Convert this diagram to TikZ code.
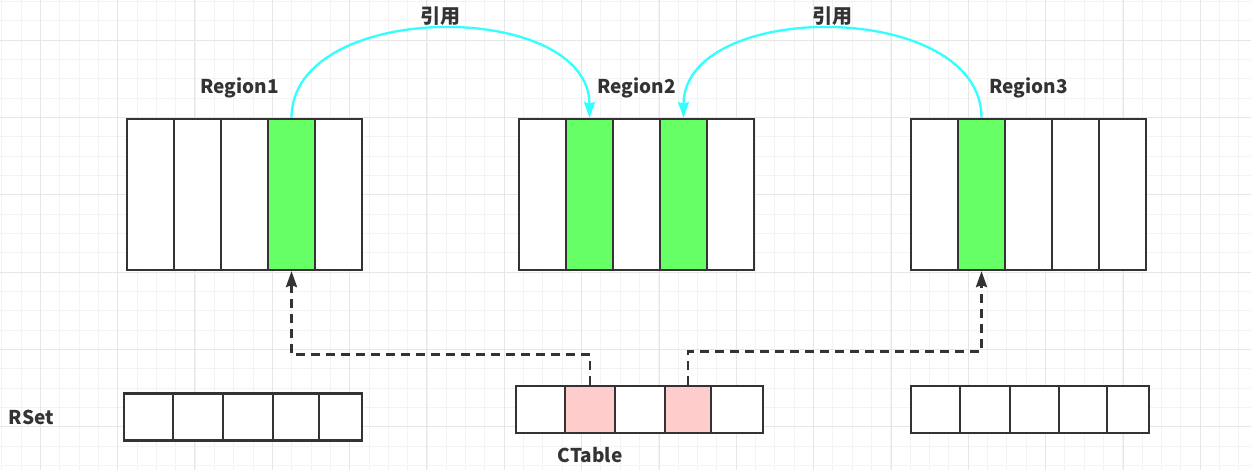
\documentclass[tikz,border=0pt]{standalone}
\usepackage{fontspec}
\newfontfamily\cjk{Noto Sans CJK SC}
\usetikzlibrary{arrows.meta, positioning}

\definecolor{edge}{HTML}{333333}
\definecolor{hit}{HTML}{66FF66}
\definecolor{card}{HTML}{FFCCCC}
\definecolor{refline}{HTML}{33FFFF}
\definecolor{gridminor}{HTML}{F3F3F3}
\definecolor{gridmajor}{HTML}{E6E6E6}

\tikzset{
  cell/.style={draw=edge, line width=2.2pt, inner sep=0pt, minimum width=47pt, minimum height=151pt},
  lbl/.style={font=\cjk\bfseries\fontsize{19}{19}\selectfont, text=edge, inner sep=0pt},
  note/.style={lbl, font=\cjk\bfseries\fontsize{20}{20}\selectfont},
  ref/.style={draw=refline, line width=2.3pt, -{Stealth[length=16pt,width=11pt,inset=2pt]}},
  ptr/.style={draw=edge, line width=2.8pt, dash pattern=on 9pt off 6pt, -{Stealth[length=16pt,width=11pt,inset=2pt]}},
}

\begin{document}
\begin{tikzpicture}[x=1pt, y=-1pt]
    \useasboundingbox[fill=white] (0,0) rectangle (1251,470);
    \foreach \k in {0,...,64} \draw[gridminor, line width=1pt] ({1.67+19.333*\k},0) -- ++(0,470);
    \foreach \k in {0,...,24} \draw[gridminor, line width=1pt] (0,{1.4+19.333*\k}) -- ++(1251,0);
    \foreach \k in {0,...,15} \draw[gridmajor, line width=1pt] ({40.33+77.333*\k},0) -- ++(0,470);
    \foreach \k in {0,...,5} \draw[gridmajor, line width=1pt] (0,{40.07+77.333*\k}) -- ++(1251,0);

    \foreach \n/\x/\fl in {r1/127/{white,white,white,hit,white}, r2/519/{white,hit,white,hit,white}, r3/911/{white,hit,white,white,white}}
        \foreach \f [count=\i] in \fl
            \node[cell, fill=\f] (\n c\i) at ({\x+47*\i-23.5}, 194.5) {};

    \foreach \n/\y/\cl in {rsa/417/{124/173/white,173/223/white,223/273/white,273/319/white,319/362/white}, ct/409.5/{516/565/white,565/615/card,615/665/white,665/711/card,711/763/white}, rsb/409.5/{911/960/white,960/1010/white,1010/1059/white,1059/1107/white,1107/1149/white}}
        \foreach \a/\b/\f [count=\i] in \cl
            \node[cell, fill=\f, minimum width={(\b-\a)*1pt}, minimum height=47pt] (\n\i) at ({(\a+\b)/2}, \y) {};

    \node[lbl, anchor=base] (region1) at ([xshift=-5pt, yshift=24pt]r1c3.north) {Region1};
    \node[lbl, anchor=base] (region2) at ([yshift=24pt]r2c3.north) {Region2};
    \node[lbl, anchor=base] (region3) at ([yshift=24pt]r3c3.north) {Region3};
    \node[lbl, left=69pt of rsa1] (rset) {RSet};
    \node[lbl, anchor=base] (ctable) at ([yshift=-28pt]ct2.south) {CTable};

    \draw[ref] (r1c4.north) .. controls +(0,-119) and +(0,-119) .. (r2c2.north) node[note, midway, above=2pt] (use1) {引用};
    \draw[ref] (r3c2.north) .. controls +(0,-119) and +(0,-119) .. (r2c4.north) node[note, midway, above=2pt] (use2) {引用};

    \draw[ptr] (ct2.north) -- ++(0,-30) -| (r1c4.south);
    \draw[ptr] (ct4.north) -- ++(0,-33) -| (r3c2.south);
\end{tikzpicture}
\end{document}
